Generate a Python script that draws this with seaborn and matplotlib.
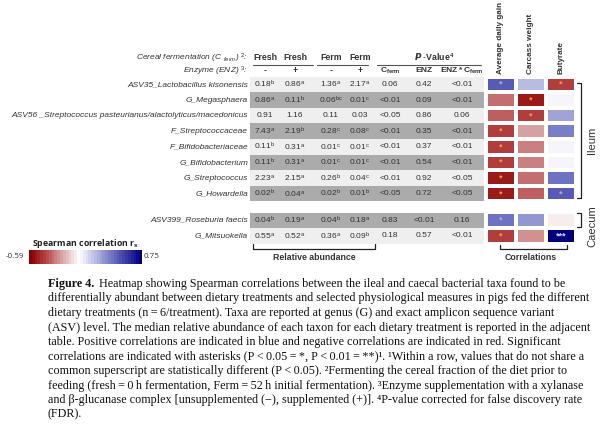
import numpy as np
import pandas as pd
import matplotlib
matplotlib.use("Agg")
import matplotlib.pyplot as plt
import seaborn as sns
from matplotlib.colors import LinearSegmentedColormap

# ---------------- data ----------------
taxa_ileum = ["ASV35_Lactobacillus kisonensis", "G_Megasphaera",
              "ASV56 _Streptococcus pasteurianus/alactolyticus/macedonicus",
              "F_Streptococcaceae", "F_Bifidobacteriaceae", "G_Bifidobacterium",
              "G_Streptococcus", "G_Howardella"]
taxa_caecum = ["ASV399_Roseburia faecis", "G_Mitsuokella"]

fresh_minus = ["0.18^b", "0.86^a", "0.91", "7.43^a", "0.11^b", "0.11^b", "2.23^a", "0.02^b", "0.04^b", "0.55^a"]
fresh_plus = ["0.86^a", "0.11^b", "1.16", "2.19^b", "0.31^a", "0.31^a", "2.15^a", "0.04^a", "0.19^a", "0.52^a"]
ferm_minus = ["1.36^a", "0.06^{bc}", "0.11", "0.28^c", "0.01^c", "0.01^c", "0.26^b", "0.02^b", "0.04^b", "0.36^a"]
ferm_plus = ["2.17^a", "0.01^c", "0.03", "0.08^c", "0.01^c", "0.01^c", "0.04^c", "0.01^b", "0.18^a", "0.09^b"]
p_cferm = ["0.06", "<0.01", "<0.05", "<0.01", "<0.01", "<0.01", "<0.01", "<0.05", "0.83", "0.18"]
p_enz = ["0.42", "0.09", "0.86", "0.35", "0.37", "0.54", "0.92", "0.72", "<0.01", "0.57"]
p_int = ["<0.01", "<0.01", "0.06", "<0.01", "<0.01", "<0.01", "<0.05", "<0.05", "0.16", "<0.01"]

measures = ["Average daily gain", "Carcass weight", "Butyrate"]
r_adg = [0.45, -0.30, -0.35, -0.42, -0.40, -0.40, -0.50, -0.50, 0.40, -0.40]
r_carcass = [0.20, -0.52, -0.42, -0.22, -0.28, -0.28, -0.30, -0.33, 0.30, -0.25]
r_butyrate = [-0.42, 0.04, 0.25, 0.38, 0.04, 0.04, 0.40, 0.45, -0.05, 0.75]
sig_adg = ["*", "", "", "*", "*", "*", "*", "*", "*", "*"]
sig_carcass = ["", "*", "*", "", "", "", "", "", "", ""]
sig_butyrate = ["*", "", "", "", "", "", "", "*", "", "***"]

r_min, r_max = -0.59, 0.75

caption_lines = [
    "differentially abundant between dietary treatments and selected physiological measures in pigs fed the different",
    "dietary treatments (n\u2009=\u20096/treatment). Taxa are reported at genus (G) and exact amplicon sequence variant",
    "(ASV) level. The median relative abundance of each taxon for each dietary treatment is reported in the adjacent",
    "table. Positive correlations are indicated in blue and negative correlations are indicated in red. Significant",
    "correlations are indicated with asterisks (P\u2009<\u20090.05\u2009=\u2009*, P\u2009<\u20090.01\u2009=\u2009**)\u00b9. \u00b9Within a row, values that do not share a",
    "common superscript are statistically different (P\u2009<\u20090.05). \u00b2Fermenting the cereal fraction of the diet prior to",
    "feeding (fresh\u2009=\u20090\u2009h fermentation, Ferm\u2009=\u200952\u2009h initial fermentation). \u00b3Enzyme supplementation with a xylanase",
    "and \u03b2-glucanase complex [unsupplemented (\u2212), supplemented (+)]. \u2074P-value corrected for false discovery rate",
    "(FDR).",
]
caption_first = "Heatmap showing Spearman correlations between the ileal and caecal bacterial taxa found to be"

# ---------------- styling ----------------
sns.set_style("white")
plt.rcParams["font.family"] = ["Liberation Sans", "DejaVu Sans"]
plt.rcParams["mathtext.fontset"] = "custom"
plt.rcParams["mathtext.rm"] = "Liberation Sans"
plt.rcParams["mathtext.it"] = "Liberation Sans:italic"
plt.rcParams["mathtext.bf"] = "Liberation Sans:bold"

W, H = 600, 434
fig = plt.figure(figsize=(6.0, 4.34), dpi=100)
ax0 = fig.add_axes([0, 0, 1, 1])
ax0.set_xlim(0, W)
ax0.set_ylim(H, 0)
ax0.axis("off")


def frect(x0, y0, x1, y1):
    return [x0 / W, 1 - y1 / H, (x1 - x0) / W, (y1 - y0) / H]


def fmt(v):
    if "^" in v:
        a, b = v.split("^")
        b = b.strip("{}")
        return a + r"$^{\mathrm{" + b + "}}$"
    return v


txt_col = "#333333"
cols_x = [265, 295, 331, 360, 390, 424, 462]
tab_x0, tab_x1 = 250, 484
pitch = 15.6
ile_top = 76.6
cae_top = 212.5
row_y = [ile_top + pitch * (i + 0.5) for i in range(len(taxa_ileum))] + \
        [cae_top + pitch * (i + 0.5) for i in range(len(taxa_caecum))]
all_taxa = taxa_ileum + taxa_caecum
shade = [0, 1, 0, 1, 0, 1, 0, 1, 1, 0]

table_cols = [fresh_minus, fresh_plus, ferm_minus, ferm_plus, p_cferm, p_enz, p_int]
for i, (name, y) in enumerate(zip(all_taxa, row_y)):
    ax0.add_patch(plt.Rectangle((tab_x0, y - pitch / 2), tab_x1 - tab_x0, pitch,
                                facecolor="#ababab" if shade[i] else "#efefef",
                                edgecolor="none", zorder=0))
    ax0.text(248, y, name, ha="right", va="center", fontsize=6, style="italic", color=txt_col)
    for cx, col in zip(cols_x, table_cols):
        ax0.text(cx, y, fmt(col[i]), ha="center", va="center", fontsize=6, color=txt_col)

# header
ax0.text(248, 58, r"Cereal fermentation (C $_{\mathit{ferm}}$) $^{2}$:", ha="right", va="center",
         fontsize=6, style="italic", color=txt_col)
ax0.text(248, 71, r"Enzyme (ENZ) $^{3}$:", ha="right", va="center", fontsize=6, style="italic", color=txt_col)
for cx, lab in zip(cols_x[:4], ["Fresh", "Fresh", "Ferm", "Ferm"]):
    ax0.text(cx, 58, lab, ha="center", va="center", fontsize=6.3, fontweight="bold", color=txt_col)
for cx, lab in zip(cols_x[:4], ["-", "+", "-", "+"]):
    ax0.text(cx, 71, lab, ha="center", va="center", fontsize=6.3, fontweight="bold", color=txt_col)
ax0.text(434, 57, r"$\mathbfit{P}$ $\mathbf{\text{-}Value}^{\mathbf{4}}$", ha="center", va="center",
         fontsize=6.3, color=txt_col)
ax0.text(cols_x[4], 71, r"$\mathbf{C_{ferm}}$", ha="center", va="center", fontsize=6.1, color=txt_col)
ax0.text(cols_x[5], 71, "ENZ", ha="center", va="center", fontsize=6.1, fontweight="bold", color=txt_col)
ax0.text(cols_x[6], 71, r"$\mathbf{ENZ*C_{ferm}}$", ha="center", va="center", fontsize=6.1, color=txt_col)
for x0, x1 in [(253, 313), (317, 368), (377, 481)]:
    ax0.plot([x0, x1], [64.5, 64.5], color="#555555", lw=0.8)

# column headers of heatmap
heat_x0, heat_x1 = 486, 576
cw = (heat_x1 - heat_x0) / 3
for j, m in enumerate(measures):
    ax0.text(heat_x0 + cw * (j + 0.5), 74, m, rotation=90, ha="center", va="bottom",
             fontsize=5.9, fontweight="bold", color=txt_col)

# ---------------- heatmaps ----------------
cmap = LinearSegmentedColormap.from_list(
    "rb", [(0.0, "#8b0000"), (0.142, "#b54545"), (0.254, "#d09090"), (0.44, "#ffffff"),
           (0.59, "#b8bce0"), (0.739, "#6f74c4"), (1.0, "#00007f")], N=40)

n_i = len(taxa_ileum)
df_i = pd.DataFrame({"Average daily gain": r_adg[:n_i], "Carcass weight": r_carcass[:n_i],
                     "Butyrate": r_butyrate[:n_i]}, index=taxa_ileum)
df_c = pd.DataFrame({"Average daily gain": r_adg[n_i:], "Carcass weight": r_carcass[n_i:],
                     "Butyrate": r_butyrate[n_i:]}, index=taxa_caecum)
st_i = np.array([sig_adg[:n_i], sig_carcass[:n_i], sig_butyrate[:n_i]]).T
st_c = np.array([sig_adg[n_i:], sig_carcass[n_i:], sig_butyrate[n_i:]]).T

axI = fig.add_axes(frect(heat_x0, ile_top, heat_x1, ile_top + pitch * n_i))
axC = fig.add_axes(frect(heat_x0, cae_top, heat_x1, cae_top + pitch * len(taxa_caecum)))
cax = fig.add_axes(frect(29, 250, 142, 264))

for ax, df, st, cb in [(axI, df_i, st_i, True), (axC, df_c, st_c, False)]:
    kw = dict(cbar_ax=cax, cbar_kws={"orientation": "horizontal"}) if cb else {}
    sns.heatmap(df, ax=ax, cmap=cmap, vmin=r_min, vmax=r_max, linewidths=1.6, linecolor="white",
                annot=st, fmt="", annot_kws={"fontsize": 6.5, "fontweight": "bold"},
                xticklabels=False, yticklabels=False, cbar=cb, **kw)
    ax.set_xlabel("")
    ax.set_ylabel("")
    vals = df.values.flatten()
    for t, v in zip(ax.texts, vals):
        if v > 0.6:
            t.set_color("#d8d8f0")
        elif v > 0:
            t.set_color("#b4b4b4")
        else:
            t.set_color("#f5a040")

cbar = axI.collections[0].colorbar
cbar.outline.set_visible(False)
cax.set_xticks([])
cax.set_yticks([])

ax0.text(85, 244, r"Spearman correlation r$_{\mathbf{s}}$", ha="center", va="center", fontsize=6.3,
         fontweight="bold", family=["Open Sans", "DejaVu Sans"], color="#222222")
ax0.text(15, 257, "-0.59", ha="center", va="center", fontsize=5.8, family=["Open Sans", "DejaVu Sans"], color="#333333")
ax0.text(144, 257, "0.75", ha="left", va="center", fontsize=5.8, family=["Open Sans", "DejaVu Sans"], color="#333333")

# ---------------- brackets ----------------
bk = "#222222"
# ileum
ax0.plot([577, 581, 581, 577], [83, 83, 198, 198], color=bk, lw=0.9)
ax0.text(592, (83 + 198) / 2, "Ileum", rotation=90, ha="center", va="center", fontsize=8, color=txt_col)
# caecum
ax0.plot([577, 581, 581, 577], [213, 213, 227, 227], color=bk, lw=0.9)
ax0.text(592, 226, "Caecum", rotation=90, ha="center", va="center", fontsize=8, color=txt_col)
# relative abundance
ax0.plot([253, 253, 375, 375], [244, 248.5, 248.5, 244], color=bk, lw=0.9)
ax0.text(314, 258, "Relative abundance", ha="center", va="center", fontsize=6.3, fontweight="bold", color=txt_col)
# correlations
ax0.plot([500, 500, 567, 567], [245, 249, 249, 245], color=bk, lw=0.9)
ax0.text(531, 258, "Correlations", ha="center", va="center", fontsize=6.3, fontweight="bold", color=txt_col)

# ---------------- caption ----------------
serif = ["Liberation Serif", "DejaVu Serif"]
cap_x, cap_y0, cap_dy = 48, 284, 14.5
cap_fs = 8.7
ax0.text(cap_x, cap_y0, "Figure 4.", ha="left", va="center", fontsize=cap_fs, fontweight="bold",
         family=serif, color="#111111")
ax0.text(99, cap_y0, caption_first, ha="left", va="center", fontsize=cap_fs, family=serif, color="#111111")
for k, line in enumerate(caption_lines):
    ax0.text(cap_x, cap_y0 + cap_dy * (k + 1), line, ha="left", va="center", fontsize=cap_fs,
             family=serif, color="#111111")

fig.savefig("out.png", dpi=100)
